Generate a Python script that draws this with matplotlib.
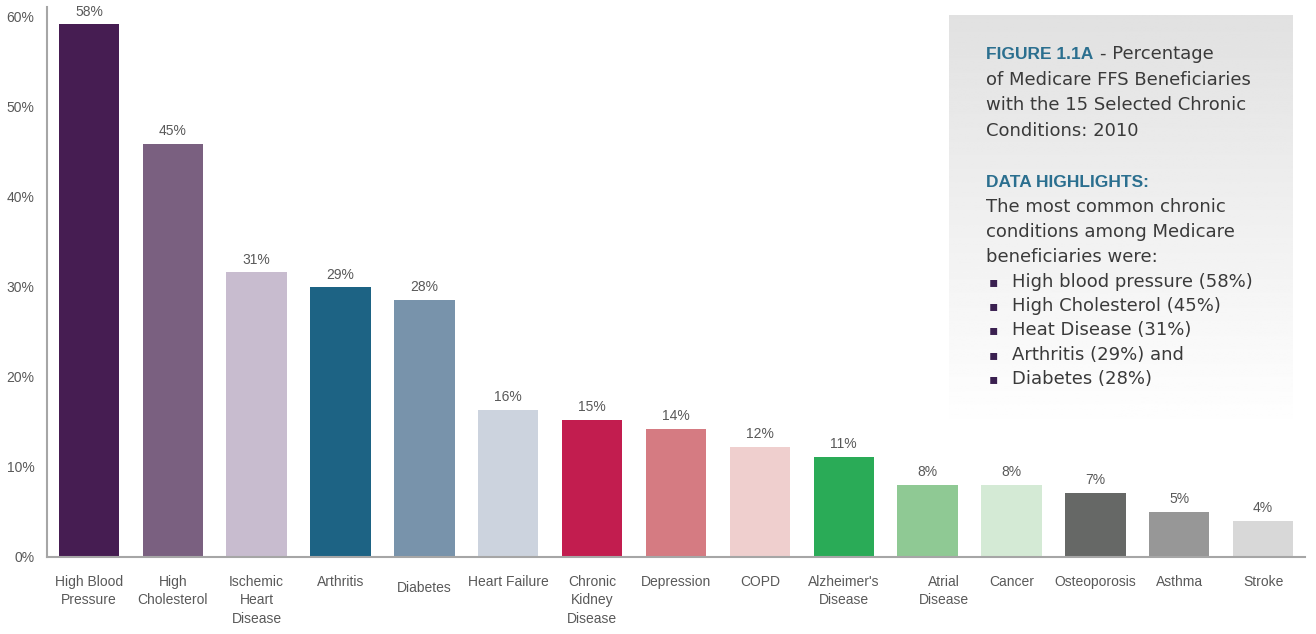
import numpy as np
import matplotlib.pyplot as plt
from matplotlib.transforms import ScaledTranslation

# data
conditions = ['High Blood\nPressure', 'High\nCholesterol', 'Ischemic\nHeart\nDisease',
              'Arthritis', 'Diabetes', 'Heart Failure', 'Chronic\nKidney\nDisease',
              'Depression', 'COPD', "Alzheimer's\nDisease", 'Atrial\nDisease',
              'Cancer', 'Osteoporosis', 'Asthma', 'Stroke']
heights = [59.1, 45.8, 31.6, 29.9, 28.5, 16.3, 15.2, 14.2, 12.2, 11.1,
           8.0, 8.0, 7.1, 5.0, 4.0]
value_labels = ['58%', '45%', '31%', '29%', '28%', '16%', '15%', '14%', '12%',
                '11%', '8%', '8%', '7%', '5%', '4%']
bar_colors = ['#461d52', '#7a6080', '#c8bccf', '#1d6384', '#7893ab', '#ccd3de',
              '#c21d4f', '#d57b82', '#efcfce', '#2aab57', '#8fc994', '#d4ead5',
              '#666866', '#979797', '#d8d8d8']
y_ticks = [0, 10, 20, 30, 40, 50, 60]
y_tick_labels = ['0%', '10%', '20%', '30%', '40%', '50%', '60%']

title_lines = ['of Medicare FFS Beneficiaries', 'with the 15 Selected Chronic',
               'Conditions: 2010']
intro_lines = ['The most common chronic', 'conditions among Medicare',
               'beneficiaries were:']
highlights = ['High blood pressure (58%)', 'High Cholesterol (45%)',
              'Heat Disease (31%)', 'Arthritis (29%) and', 'Diabetes (28%)']

W, H = 1316, 634
label_font = ['Liberation Sans', 'DejaVu Sans']
text_gray = '#595959'
teal = '#2b6f8f'
dark = '#3a3a3a'

fig = plt.figure(figsize=(W / 100, H / 100), dpi=100)
ax = fig.add_axes([47 / W, (H - 557) / H, 1258 / W, (557 - 7) / H])

x = np.arange(len(conditions))
ax.bar(x, heights, width=0.72, color=bar_colors)
for xi, h, lbl in zip(x, heights, value_labels):
    ax.annotate(lbl, (xi, h), xytext=(0, 4), textcoords='offset points',
                ha='center', va='bottom', fontsize=10, color=text_gray,
                family=label_font, annotation_clip=False)

ax.set_xlim(-0.5, 14.5)
ax.set_ylim(0, 61)
ax.set_yticks(y_ticks)
ax.set_yticklabels(y_tick_labels, family=label_font, fontsize=10, color=text_gray)
ax.set_xticks(x)
ax.set_xticklabels(conditions, family=label_font, fontsize=10, color=text_gray,
                   linespacing=1.4, va='top')
ax.tick_params(axis='both', length=0)
ax.tick_params(axis='x', pad=13)
ax.tick_params(axis='y', pad=9)
for side in ['top', 'right']:
    ax.spines[side].set_visible(False)
for side in ['left', 'bottom']:
    ax.spines[side].set_color('#a6a6a6')
    ax.spines[side].set_linewidth(1.5)

# small nudges seen in the reference
xl = ax.get_xticklabels()
xl[4].set_transform(xl[4].get_transform() + ScaledTranslation(0, -6 / 100, fig.dpi_scale_trans))
xl[10].set_transform(xl[10].get_transform() + ScaledTranslation(16 / 100, 0, fig.dpi_scale_trans))

# gray gradient panel
box = fig.add_axes([949 / W, 1 - 433 / H, (1293 - 949) / W, (433 - 15) / H])
grad = np.linspace(0.855, 1.0, 256) ** 0.8
box.imshow(grad.reshape(-1, 1), cmap='gray', vmin=0, vmax=1, aspect='auto',
           extent=(0, 1, 0, 1), origin='upper')
box.axis('off')


def fy(px):
    return 1 - px / H


text_font = ['DejaVu Sans']
head_font = ['Liberation Sans', 'DejaVu Sans']
fig.text(986 / W, fy(59), 'FIGURE 1.1A', family=head_font, weight='bold',
         fontsize=12.5, color=teal, va='baseline')
fig.text(1100 / W, fy(59), '- Percentage', family=text_font, fontsize=13,
         color=dark, va='baseline')
for i, line in enumerate(title_lines):
    fig.text(986 / W, fy(85 + 25.3 * i), line, family=text_font, fontsize=13,
             color=dark, va='baseline')

fig.text(986 / W, fy(187), 'DATA HIGHLIGHTS:', family=head_font, weight='bold',
         fontsize=12.5, color=teal, va='baseline')
for i, line in enumerate(intro_lines):
    fig.text(986 / W, fy(212 + 25 * i), line, family=text_font, fontsize=13,
             color=dark, va='baseline')
for i, line in enumerate(highlights):
    yb = 287 + 24.2 * i
    fig.text(989 / W, fy(yb - 1), '\u25aa', family=text_font, fontsize=10,
             color='#3a2050', va='baseline')
    fig.text(1012 / W, fy(yb), line, family=text_font, fontsize=13,
             color=dark, va='baseline')

fig.savefig('out.png', dpi=100)
